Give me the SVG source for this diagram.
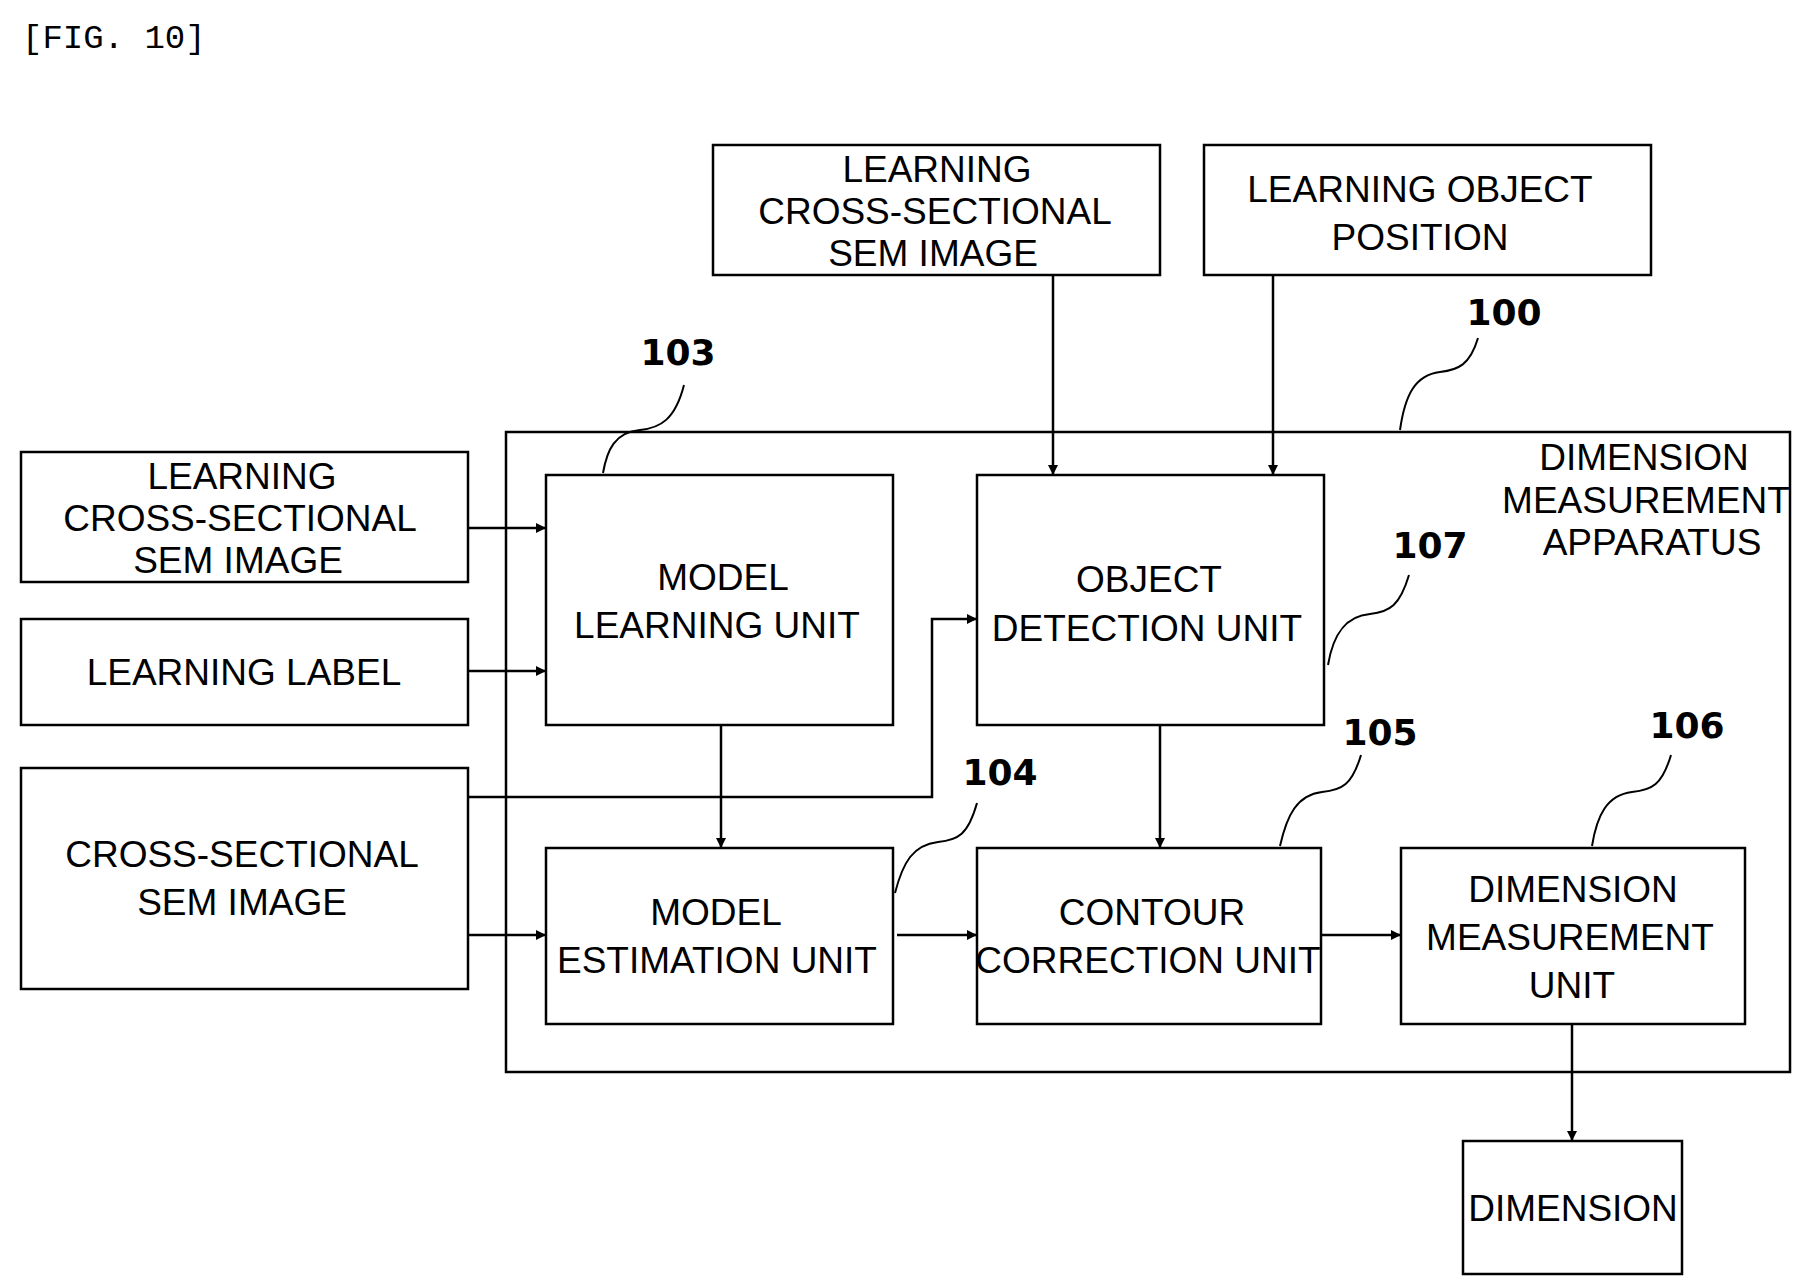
<svg xmlns="http://www.w3.org/2000/svg" width="1802" height="1288" viewBox="0 0 1802 1288">
<style>
.b{fill:none;stroke:#000;stroke-width:2.5}
.t{font-family:"Liberation Sans",Arial,sans-serif;font-size:37px;text-anchor:middle;fill:#000}
.n{font-family:"DejaVu Sans",sans-serif;font-weight:bold;font-size:36px;text-anchor:middle;fill:#000}
.c{fill:none;stroke:#000;stroke-width:2.5}
.l{fill:none;stroke:#000;stroke-width:2}
</style>
<defs><marker id="a" markerWidth="10" markerHeight="10" refX="9" refY="5" orient="auto" markerUnits="userSpaceOnUse" viewBox="0 0 10 10"><path d="M0,0 L10,5 L0,10 z" fill="#000"/></marker></defs>
<rect width="1802" height="1288" fill="#fff"/>
<text x="22" y="48" font-family="Liberation Mono,monospace" font-size="34">[FIG. 10]</text>
<g id="apparatus"><rect class="b" x="506" y="432" width="1284" height="640"/>
<text class="t" x="1644" y="470">DIMENSION</text><text class="t" x="1646" y="513">MEASUREMENT</text><text class="t" x="1652" y="555">APPARATUS</text></g>
<g id="top1"><rect class="b" x="713" y="145" width="447" height="130"/>
<text class="t" x="937" y="182">LEARNING</text><text class="t" x="935" y="224">CROSS-SECTIONAL</text><text class="t" x="933" y="266">SEM IMAGE</text></g>
<g id="top2"><rect class="b" x="1204" y="145" width="447" height="130"/>
<text class="t" x="1420" y="202">LEARNING OBJECT</text><text class="t" x="1420" y="250">POSITION</text></g>
<g id="left1"><rect class="b" x="21" y="452" width="447" height="130"/>
<text class="t" x="242" y="489">LEARNING</text><text class="t" x="240" y="531">CROSS-SECTIONAL</text><text class="t" x="238" y="573">SEM IMAGE</text></g>
<g id="left2"><rect class="b" x="21" y="619" width="447" height="106"/>
<text class="t" x="244" y="685">LEARNING LABEL</text></g>
<g id="left3"><rect class="b" x="21" y="768" width="447" height="221"/>
<text class="t" x="242" y="867">CROSS-SECTIONAL</text><text class="t" x="242" y="915">SEM IMAGE</text></g>
<g id="n103"><rect class="b" x="546" y="475" width="347" height="250"/>
<text class="t" x="723" y="590">MODEL</text><text class="t" x="717" y="638">LEARNING UNIT</text></g>
<g id="n107"><rect class="b" x="977" y="475" width="347" height="250"/>
<text class="t" x="1149" y="592">OBJECT</text><text class="t" x="1147" y="641">DETECTION UNIT</text></g>
<g id="n104"><rect class="b" x="546" y="848" width="347" height="176"/>
<text class="t" x="716" y="925">MODEL</text><text class="t" x="717" y="973">ESTIMATION UNIT</text></g>
<g id="n105"><rect class="b" x="977" y="848" width="344" height="176"/>
<text class="t" x="1152" y="925">CONTOUR</text><text class="t" x="1148" y="973">CORRECTION UNIT</text></g>
<g id="n106"><rect class="b" x="1401" y="848" width="344" height="176"/>
<text class="t" x="1573" y="902">DIMENSION</text><text class="t" x="1570" y="950">MEASUREMENT</text><text class="t" x="1572" y="998">UNIT</text></g>
<g id="dim"><rect class="b" x="1463" y="1141" width="219" height="133"/>
<text class="t" x="1573" y="1221">DIMENSION</text></g>
<g id="connectors">
<line class="c" x1="1053" y1="275" x2="1053" y2="474" marker-end="url(#a)"/>
<line class="c" x1="1273" y1="275" x2="1273" y2="474" marker-end="url(#a)"/>
<line class="c" x1="468" y1="528" x2="545" y2="528" marker-end="url(#a)"/>
<line class="c" x1="468" y1="671" x2="545" y2="671" marker-end="url(#a)"/>
<line class="c" x1="468" y1="935" x2="545" y2="935" marker-end="url(#a)"/>
<polyline class="c" points="468,797 932,797 932,619 976,619" marker-end="url(#a)"/>
<line class="c" x1="721" y1="725" x2="721" y2="847" marker-end="url(#a)"/>
<line class="c" x1="1160" y1="725" x2="1160" y2="847" marker-end="url(#a)"/>
<line class="c" x1="897" y1="935" x2="976" y2="935" marker-end="url(#a)"/>
<line class="c" x1="1321" y1="935" x2="1400" y2="935" marker-end="url(#a)"/>
<line class="c" x1="1572" y1="1024" x2="1572" y2="1140" marker-end="url(#a)"/>
</g>
<g id="refs">
<text class="n" x="678" y="365">103</text><path class="l" d="M684,385 C675,420 660,428 640,430 C615,432 607,450 603,473"/>
<text class="n" x="1504" y="325">100</text><path class="l" d="M1478,338 C1470,365 1458,370 1440,372 C1415,375 1405,395 1400,430"/>
<text class="n" x="1430" y="558">107</text><path class="l" d="M1409,575 C1400,605 1390,612 1370,614 C1345,616 1333,635 1328,665"/>
<text class="n" x="1000" y="785">104</text><path class="l" d="M977,803 C968,835 958,840 938,842 C913,845 903,862 895,893"/>
<text class="n" x="1380" y="745">105</text><path class="l" d="M1361,755 C1352,785 1342,790 1322,792 C1297,795 1287,815 1280,846"/>
<text class="n" x="1687" y="738">106</text><path class="l" d="M1671,755 C1662,785 1652,790 1632,792 C1607,795 1597,815 1592,846"/>
</g>
</svg>
